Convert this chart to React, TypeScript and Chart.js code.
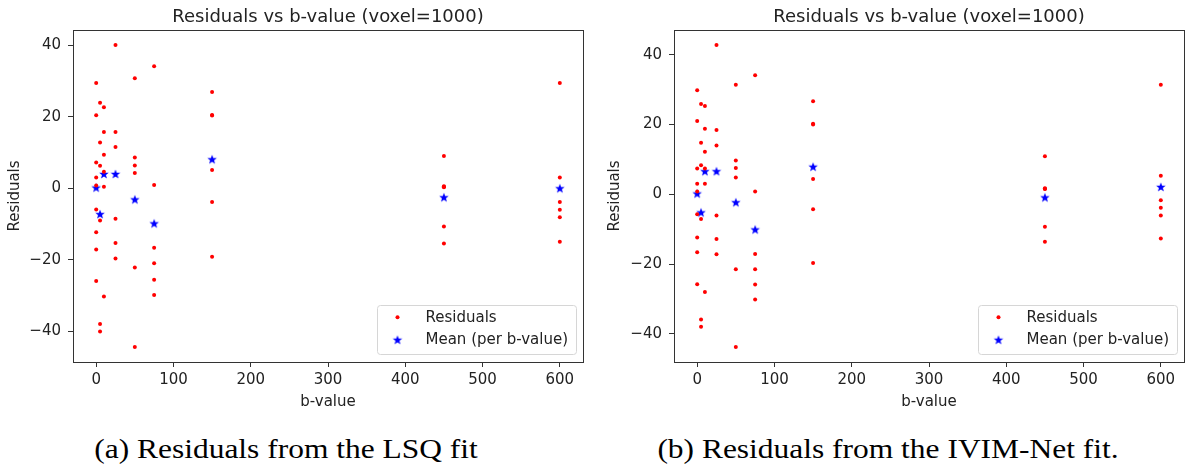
import React, { useEffect, useRef } from "react";
import { Chart, registerables } from "chart.js";

Chart.register(...registerables);

// ---------- data ----------
const B_VALUES = [0, 5, 10, 25, 50, 75, 150, 450, 600];
const X_TICKS = [0, 100, 200, 300, 400, 500, 600];
const Y_TICKS = [-40, -20, 0, 20, 40];

// residuals per b-value (LSQ fit)
const LSQ_RESIDUALS = [
  [29.4, 20.4, 7.2, 3.0, 0.8, -5.9, -12.3, -17.1, -25.9],
  [23.9, 12.8, 6.3, -9.0, -37.9, -40.0],
  [22.6, 15.7, 9.4, 4.6, 0.4, -30.2],
  [40.0, 15.7, 11.5, -8.5, -15.3, -19.6],
  [30.7, 8.6, 6.4, 4.3, -22.1, -44.3],
  [34.1, 0.9, -16.6, -20.9, -25.5, -29.8],
  [26.9, 20.5, 20.3, 5.1, -3.8, -19.1],
  [9.0, 0.6, 0.4, 0.3, -10.7, -15.4],
  [29.4, 3.0, -3.8, -6.0, -8.1, -14.9],
];
const LSQ_MEANS = [0.2, -7.2, 4.0, 4.0, -3.1, -9.8, 8.1, -2.5, 0.0];

// residuals per b-value (IVIM-Net fit)
const NET_RESIDUALS = [
  [29.8, 21.0, 7.4, 3.0, 0.8, -5.7, -12.4, -16.6, -25.8],
  [25.9, 14.8, 8.3, -7.1, -35.9, -38.0],
  [25.3, 18.8, 12.2, 7.4, 3.0, -28.0],
  [42.8, 18.4, 14.0, -6.1, -12.8, -17.2],
  [31.4, 9.7, 7.5, 4.8, -21.5, -43.8],
  [34.1, 0.8, -17.1, -21.5, -25.9, -30.2],
  [26.7, 20.2, 20.0, 4.4, -4.3, -19.7],
  [10.9, 1.7, 1.6, 1.5, -9.3, -13.6],
  [31.4, 5.3, -1.7, -3.9, -6.1, -12.7],
];
const NET_MEANS = [0.2, -5.2, 6.6, 6.6, -2.3, -10.1, 7.9, -0.9, 2.1];

const TITLE = "Residuals vs b-value (voxel=1000)";
const X_LABEL = "b-value";
const Y_LABEL = "Residuals";
const LEGEND_LABELS = ["Residuals", "Mean (per b-value)"];
const CAPTIONS = ["(a) Residuals from the LSQ fit", "(b) Residuals from the IVIM-Net fit."];

// ---------- helpers ----------
const FONT = "'DejaVu Sans', sans-serif";
const TEXT = "#222";
const FRAME = "#333";

function makeStar(outer: number, color: string): HTMLCanvasElement {
  const size = Math.ceil(outer * 2 + 2);
  const c = document.createElement("canvas");
  c.width = size;
  c.height = size;
  const g = c.getContext("2d")!;
  const cx = size / 2;
  const cy = size / 2 + 0.4;
  const inner = outer * 0.42;
  g.beginPath();
  for (let i = 0; i < 10; i++) {
    const r = i % 2 === 0 ? outer : inner;
    const a = -Math.PI / 2 + (i * Math.PI) / 5;
    const x = cx + r * Math.cos(a);
    const y = cy + r * Math.sin(a);
    if (i === 0) g.moveTo(x, y);
    else g.lineTo(x, y);
  }
  g.closePath();
  g.fillStyle = color;
  g.fill();
  return c;
}

const fmt = (v: number) => (v < 0 ? "\u2212" + Math.abs(v) : String(v));

const decorPlugin = {
  id: "decor",
  afterDatasetsDraw(chart: any) {
    const { ctx, chartArea: a } = chart;
    ctx.save();
    // frame
    ctx.strokeStyle = FRAME;
    ctx.lineWidth = 1;
    ctx.strokeRect(Math.round(a.left) + 0.5, Math.round(a.top) + 0.5, Math.round(a.right - a.left), Math.round(a.bottom - a.top));
    // title
    ctx.fillStyle = TEXT;
    ctx.font = `18px ${FONT}`;
    ctx.textAlign = "center";
    ctx.textBaseline = "alphabetic";
    ctx.fillText(TITLE, (a.left + a.right) / 2, 21.5);
    // legend
    const w = 199;
    const h = 49;
    const bx = a.right - 7.5 - w;
    const by = a.bottom - 8.5 - h;
    ctx.beginPath();
    (ctx as any).roundRect(Math.round(bx) + 0.5, Math.round(by) + 0.5, w, h, 3);
    ctx.fillStyle = "rgba(255,255,255,0.85)";
    ctx.fill();
    ctx.strokeStyle = "#d6d6d6";
    ctx.stroke();
    const ds = chart.data.datasets;
    const rows = [by + 12.7, by + 35.3];
    // residual marker
    ctx.beginPath();
    ctx.arc(bx + 21, rows[0], 2, 0, Math.PI * 2);
    ctx.fillStyle = ds[0].pointBackgroundColor;
    ctx.fill();
    // star marker
    const star = ds[1].pointStyle as HTMLCanvasElement;
    ctx.drawImage(star, bx + 21 - star.width / 2, rows[1] - star.height / 2);
    ctx.fillStyle = TEXT;
    ctx.font = `15px ${FONT}`;
    ctx.textAlign = "left";
    ctx.textBaseline = "middle";
    ctx.fillText(LEGEND_LABELS[0], bx + 49, rows[0] + 0.5);
    ctx.fillText(LEGEND_LABELS[1], bx + 49, rows[1] + 0.5);
    ctx.restore();
  },
};

type PanelProps = {
  residuals: number[][];
  means: number[];
  yMin: number;
  yMax: number;
  left: number;
  width: number;
  yAxisWidth: number;
  padRight: number;
};

function Panel({ residuals, means, yMin, yMax, left, width, yAxisWidth, padRight }: PanelProps) {
  const ref = useRef<HTMLCanvasElement>(null);
  useEffect(() => {
    const star = makeStar(5, "#0000ff");
    const resPts = B_VALUES.flatMap((b, i) => residuals[i].map((r) => ({ x: b, y: r })));
    const meanPts = B_VALUES.map((b, i) => ({ x: b, y: means[i] }));
    const tickFont = { family: FONT, size: 15 };
    const chart = new Chart(ref.current!, {
      type: "scatter",
      data: {
        datasets: [
          {
            label: LEGEND_LABELS[0],
            data: resPts,
            pointRadius: 2,
            pointHoverRadius: 2,
            pointBackgroundColor: "#ff0000",
            pointBorderWidth: 0,
            borderColor: "#ff0000",
            showLine: false,
          },
          {
            label: LEGEND_LABELS[1],
            data: meanPts,
            pointStyle: star as any,
            pointRadius: 5,
            pointBackgroundColor: "#0000ff",
            borderColor: "#0000ff",
            showLine: false,
          },
        ],
      } as any,
      options: {
        responsive: false,
        animation: false,
        devicePixelRatio: 1,
        layout: { padding: { top: 30, right: padRight, left: 0, bottom: 0 }, autoPadding: false } as any,
        plugins: { legend: { display: false }, tooltip: { enabled: false }, title: { display: false } },
        events: [],
        scales: {
          x: {
            type: "linear",
            min: -30,
            max: 630,
            afterBuildTicks: (s: any) => {
              s.ticks = X_TICKS.map((v) => ({ value: v }));
            },
            afterFit: (s: any) => {
              s.height = 58;
            },
            grid: { display: true, drawOnChartArea: false, drawTicks: true, tickLength: 5, color: FRAME },
            border: { display: false },
            ticks: { font: tickFont, color: TEXT, padding: 4, maxRotation: 0, callback: (v: any) => fmt(Number(v)) },
            title: { display: true, text: X_LABEL, font: tickFont, color: TEXT, padding: { top: 0, bottom: 9 } },
          },
          y: {
            type: "linear",
            min: yMin,
            max: yMax,
            afterBuildTicks: (s: any) => {
              s.ticks = Y_TICKS.map((v) => ({ value: v }));
            },
            afterFit: (s: any) => {
              s.width = yAxisWidth;
            },
            grid: { display: true, drawOnChartArea: false, drawTicks: true, tickLength: 5, color: FRAME },
            border: { display: false },
            ticks: { font: tickFont, color: TEXT, padding: 7, callback: (v: any) => fmt(Number(v)) },
            title: { display: true, text: Y_LABEL, font: tickFont, color: TEXT, padding: { top: 6, bottom: 0 } },
          },
        },
      } as any,
      plugins: [decorPlugin],
    });
    return () => chart.destroy();
  }, []);
  return (
    <canvas
      ref={ref}
      width={width}
      height={420}
      style={{ position: "absolute", left, top: 0, width, height: 420 }}
    />
  );
}

function Caption({ text, center }: { text: string; center: number }) {
  return (
    <div
      style={{
        position: "absolute",
        left: center,
        top: 436,
        whiteSpace: "nowrap",
        fontFamily: "'Liberation Serif', serif",
        fontSize: 27,
        lineHeight: "27px",
        color: "#000",
        transform: "translateX(-50%) scaleX(1.165)",
        transformOrigin: "center",
      }}
    >
      {text}
    </div>
  );
}

export default function App() {
  return (
    <div
      style={{
        position: "fixed",
        left: 0,
        top: 0,
        width: 1187,
        height: 468,
        background: "#fff",
        overflow: "hidden",
      }}
    >
      <Panel residuals={LSQ_RESIDUALS} means={LSQ_MEANS} yMin={-48.5} yMax={44.2} left={0} width={593} yAxisWidth={73} padRight={10} />
      <Panel residuals={NET_RESIDUALS} means={NET_MEANS} yMin={-48.1} yMax={47.1} left={600} width={587} yAxisWidth={74} padRight={3} />
      <Caption text={CAPTIONS[0]} center={285.8} />
      <Caption text={CAPTIONS[1]} center={888.3} />
    </div>
  );
}
